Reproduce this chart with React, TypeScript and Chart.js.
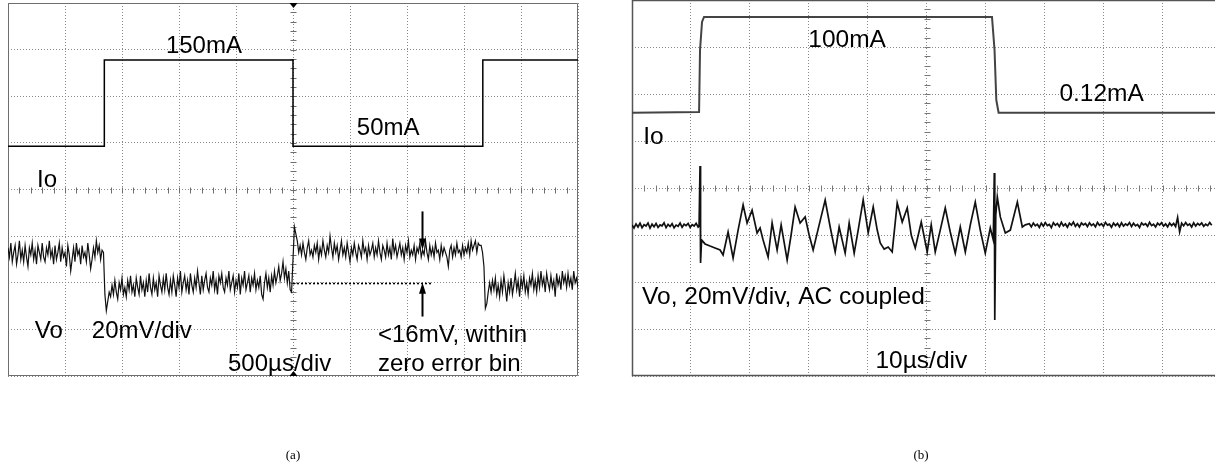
import React, { useEffect, useRef } from "react";
import { Chart, registerables } from "chart.js";

Chart.register(...registerables);

const SANS = '"Liberation Sans", Arial, Helvetica, sans-serif';
const SERIF = '"Liberation Serif", "Times New Roman", serif';

// ---------------- Panel (a): 500 µs/div, Vo 20 mV/div ----------------
const A_US_PER_DIV = 500;
const A_VO_MV_PER_DIV = 20;
const A_IO_MA_PER_DIV = 54;
const A_X_GRID_US = [0, 500, 1000, 1500, 2000, 2500, 3000, 3500, 4000, 4500, 5000];

const A_IO_TIME_US = [0, 845, 845, 2500, 2500, 4165, 4165, 5000];
const A_IO_MA = [50, 50, 150, 150, 50, 50, 150, 150];

const A_VO_SAMPLE_US = 12.5;
const A_VO_MV = [
  // 150 mA -> 50 mA region (before first load step)
  -25, -29, -23, -31, -27, -24, -32, -28, -22, -30,
  -26, -31, -24, -29, -33, -25, -28, -23, -30, -26,
  -32, -24, -27, -30, -23, -29, -31, -25, -28, -22,
  -29, -26, -32, -24, -30, -27, -23, -31, -25, -29,
  -27, -33, -24, -28, -35, -30, -25, -31, -23, -28,
  -26, -32, -24, -29, -27, -31, -23, -28, -34, -30,
  -25, -29, -22, -27, -24, -30, -26, -27,
  // step load up: undershoot
  -45, -52,
  // 150 mA region
  -48, -44, -46, -41, -45, -39, -44, -47, -40, -43,
  -38, -45, -42, -46, -39, -43, -37, -44, -41, -46,
  -38, -42, -45, -37, -43, -40, -46, -39, -44, -36,
  -42, -45, -38, -43, -40, -46, -37, -41, -44, -38,
  -43, -36, -42, -45, -39, -44, -37, -41, -46, -38,
  -42, -35, -44, -40, -37, -43, -39, -45, -36, -41,
  -44, -38, -42, -35, -40, -45, -37, -43, -39, -36,
  -42, -44, -38, -41, -35, -43, -39, -45, -37, -40,
  -36, -42, -44, -38, -41, -35, -43, -40, -37, -44,
  -39, -42, -36, -45, -38, -41, -35, -43, -40, -37,
  -44, -38, -41, -36, -43, -39, -42, -37, -45, -47,
  -40, -36, -42, -38, -44, -37, -41, -35, -40, -37,
  -33, -39, -36, -31, -38, -34, -40, -35, -43,
  // step load down: overshoot
  -44, -30, -16, -19, -22, -27,
  // 50 mA region
  -24, -28, -23, -27, -30, -25, -22, -28, -26, -29,
  -24, -27, -23, -30, -25, -28, -22, -26, -29, -24,
  -27, -20, -25, -29, -23, -27, -24, -30, -26, -22,
  -28, -25, -29, -23, -27, -31, -25, -28, -23, -27,
  -30, -24, -26, -29, -22, -27, -25, -30, -24, -28,
  -26, -23, -29, -25, -28, -22, -27, -30, -24, -26,
  -29, -23, -28, -25, -30, -21, -27, -24, -29, -26,
  -23, -28, -25, -30, -24, -27, -22, -29, -26, -28,
  -24, -30, -25, -27, -23, -29, -26, -28, -22, -27,
  -30, -24, -28, -25, -29, -23, -27, -26, -30, -24,
  -28, -25, -27, -29, -33, -26, -24, -29, -25, -28,
  -23, -27, -26, -29, -24, -28, -25, -27, -23, -28,
  -22, -26, -24, -22, -27, -23, -24,
  // step load up again
  -24, -27, -33, -51, -49, -44, -40, -44, -39,
  // 150 mA region
  -43, -38, -45, -41, -46, -39, -44, -37, -42, -48,
  -40, -44, -38, -45, -41, -36, -43, -39, -46, -38,
  -42, -37, -44, -40, -45, -38, -41, -36, -43, -39,
  -44, -37, -42, -35, -41, -38, -44, -36, -40, -43,
  -37, -42, -39, -46, -36, -41, -38, -43, -35, -40,
  -37, -42, -36, -41, -38, -43, -35, -40, -38, -42,
];

const A_REF_LINE_US = [2500, 3728];
const A_REF_LINE_MV = -40;
const A_ARROW_US = 3630;
const A_ARROW_DOWN_MV = [-9.4, -25.7];
const A_ARROW_UP_MV = [-54.5, -40];

const A_TEXTS = ["150mA", "50mA", "Io", "Vo", "20mV/div", "500µs/div", "<16mV, within", "zero error bin"];
const A_TEXT_X_US = [1385, 3060, 255, 235, 735, 1930, 3245, 3245];
const A_TEXT_Y_DIV = [2.93, 1.16, 0.06, -3.18, -3.18, -3.9, -3.28, -3.9];

// ---------------- Panel (b): 10 µs/div, Vo 20 mV/div AC coupled ----------------
const B_US_PER_DIV = 10;
const B_X_MAX_US = 98.9;
const B_VO_MV_PER_DIV = 20;
const B_IO_MA_PER_DIV = 49;
const B_IO_OFFSET_DIV = 1.6;
const B_X_GRID_US = [0, 10, 20, 30, 40, 50, 60, 70, 80, 90];

const B_IO_TIME_US = [0, 11.38, 11.54, 11.88, 12.22, 61.07, 61.5, 61.8, 62.19, 98.9];
const B_IO_MA = [0.12, 0.8, 65.5, 94.7, 100, 100, 65.5, 13.3, 0.12, 0.12];

const B_VO_PRE_SAMPLE_US = 0.34;
const B_VO_PRE_MV = [
  -15.7, -17.0, -15.3, -16.6, -15.0, -16.9, -15.6, -16.2, -14.9, -17.1,
  -15.4, -16.5, -15.1, -16.8, -15.7, -16.1, -14.8, -16.9, -15.5, -16.4,
  -15.2, -17.0, -15.8, -16.3, -14.9, -16.7, -15.4, -16.0, -15.1, -16.8,
  -15.6, -16.2, -15.0, -16.6,
];

const B_VO_STEP_US = [
  11.38, 11.54, 11.63, 11.8, 12.39, 13.24, 14.09, 14.94, 15.45, 16.3,
  17.15, 18.0, 18.85, 19.52, 20.37, 21.22, 21.73, 22.24, 23.09, 23.77,
  24.62, 25.3, 26.32, 26.99, 27.67, 28.52, 29.37, 30.05, 30.73, 31.75,
  32.77, 33.62, 34.47, 35.14, 36.16, 36.84, 37.69, 38.37, 39.22, 40.07,
  40.92, 41.6, 42.11, 42.78, 43.46, 44.14, 44.99, 45.84, 46.69, 47.37,
  48.05, 49.07, 50.08, 50.76, 51.44, 52.29, 53.14, 53.99, 54.84, 55.69,
  56.54, 57.39, 58.23, 59.08, 59.93, 60.78, 61.29, 61.46, 61.54, 61.71,
  61.97, 62.48, 63.33, 64.18, 65.37, 66.21, 66.72,
];
const B_VO_STEP_MV = [
  -16.2, 9.4, -31.9, -22.1, -23.8, -24.7, -25.5, -26.4, -28.5, -18.7,
  -29.8, -17.9, -7.2, -14.9, -9.4, -19.1, -17.0, -22.1, -29.4, -14.9,
  -26.4, -15.7, -30.6, -20.0, -8.1, -14.9, -12.3, -20.0, -26.4, -15.7,
  -5.1, -16.6, -27.2, -16.6, -27.7, -14.9, -27.7, -17.9, -5.1, -19.1,
  -8.1, -17.9, -23.4, -26.0, -25.1, -27.2, -6.4, -14.5, -8.5, -20.0,
  -25.5, -14.5, -27.2, -15.7, -27.2, -17.9, -8.5, -18.7, -27.7, -16.6,
  -27.2, -15.7, -6.0, -17.9, -27.7, -17.0, -22.1, 6.4, -56.2, -11.5,
  -3.8, -12.3, -19.1, -17.9, -6.0, -16.6, -15.7,
];

const B_VO_TAIL_START_US = 67.4;
const B_VO_TAIL_SAMPLE_US = 0.34;
const B_VO_TAIL_MV = [
  -15.2, -16.5, -14.9, -16.1, -15.4, -16.8, -15.0, -16.2, -14.7, -16.0,
  -15.5, -16.9, -14.8, -15.9, -15.1, -16.4, -14.6, -16.1, -15.3, -16.7,
  -15.0, -15.8, -14.5, -16.3, -15.2, -16.6, -14.9, -15.7, -15.1, -16.4,
  -14.8, -16.0, -15.3, -16.5, -14.7, -15.9, -15.2, -16.3, -14.6, -15.8,
  -15.4, -16.7, -14.9, -16.0, -15.1, -16.5, -14.8, -16.2, -15.3, -15.9,
  -14.7, -16.4, -15.0, -16.1, -15.5, -16.8, -14.9, -15.7, -15.2, -16.3,
  -14.6, -16.0, -15.4, -16.6, -15.0, -15.8, -14.8, -16.2, -15.3, -16.5,
  -14.9, -16.0, -15.1, -16.4, -12.6, -18.7, -15.0, -16.1, -14.7, -15.9,
  -15.3, -16.6, -14.8, -16.2, -15.1, -15.8, -14.9, -16.3, -15.4, -16.0,
  -14.7, -15.9,
];

const B_TEXTS = ["100mA", "0.12mA", "Io", "Vo, 20mV/div, AC coupled", "10µs/div"];
const B_TEXT_X_US = [29.9, 72.5, 1.9, 1.7, 41.3];
const B_TEXT_Y_DIV = [3.01, 1.85, 0.94, -2.47, -3.83];

// ---------------- drawing helpers ----------------
type Deco = {
  xDiv: number;
  centerX: number;
  frameColor: string;
  frameWidth: number;
  frameRight: boolean;
  tickColor: string;
  triangles: boolean;
  texts: string[];
  textX: number[];
  textY: number[];
  fontPx: number;
  caption: string;
  captionX: number;
  captionY: number;
  refLine?: { x0: number; x1: number; y: number };
  arrows?: { x: number; from: number; to: number }[];
};

function makeScopePlugin(d: Deco) {
  return {
    id: "scopeDeco",
    beforeDatasetsDraw(chart: any) {
      const { ctx, chartArea: ca } = chart;
      const xs = chart.scales.x;
      const ys = chart.scales.y;
      ctx.save();
      ctx.strokeStyle = d.tickColor;
      ctx.lineWidth = 1;
      const cx = Math.round(xs.getPixelForValue(d.centerX)) + 0.5;
      const cy = Math.round(ys.getPixelForValue(0)) + 0.5;
      ctx.beginPath();
      for (let k = -20; k <= 20; k++) {
        const y = Math.round(ys.getPixelForValue(k * 0.2)) + 0.5;
        if (y < ca.top + 1 || y > ca.bottom - 1) continue;
        ctx.moveTo(cx - 3, y);
        ctx.lineTo(cx + 3, y);
      }
      const step = d.xDiv / 5;
      for (let k = 1; k * step < xs.max; k++) {
        const x = Math.round(xs.getPixelForValue(k * step)) + 0.5;
        ctx.moveTo(x, cy - 3);
        ctx.lineTo(x, cy + 3);
      }
      ctx.stroke();

      ctx.strokeStyle = d.frameColor;
      ctx.lineWidth = d.frameWidth;
      const L = Math.round(ca.left) + 0.5;
      const R = Math.round(ca.right) - 0.5;
      const T = Math.round(ca.top) + 0.5;
      const B = Math.round(ca.bottom) - 0.5;
      ctx.beginPath();
      ctx.moveTo(d.frameRight ? R : ca.right, T);
      ctx.lineTo(L, T);
      ctx.lineTo(L, B);
      ctx.lineTo(d.frameRight ? R : ca.right, B);
      if (d.frameRight) ctx.lineTo(R, T);
      ctx.stroke();
      ctx.restore();
    },
    afterDatasetsDraw(chart: any) {
      const { ctx, chartArea: ca } = chart;
      const xs = chart.scales.x;
      const ys = chart.scales.y;
      ctx.save();
      if (d.refLine) {
        const y = Math.round(ys.getPixelForValue(d.refLine.y)) + 0.5;
        ctx.strokeStyle = "#000";
        ctx.lineWidth = 1.6;
        ctx.setLineDash([2, 2]);
        ctx.beginPath();
        ctx.moveTo(xs.getPixelForValue(d.refLine.x0), y);
        ctx.lineTo(xs.getPixelForValue(d.refLine.x1), y);
        ctx.stroke();
        ctx.setLineDash([]);
      }
      if (d.arrows) {
        for (const a of d.arrows) {
          const x = Math.round(xs.getPixelForValue(a.x)) + 0.5;
          const y0 = ys.getPixelForValue(a.from);
          const y1 = ys.getPixelForValue(a.to);
          const dir = y1 > y0 ? 1 : -1;
          ctx.strokeStyle = "#000";
          ctx.lineWidth = 2;
          ctx.beginPath();
          ctx.moveTo(x, y0);
          ctx.lineTo(x, y1 - dir * 8);
          ctx.stroke();
          ctx.fillStyle = "#000";
          ctx.beginPath();
          ctx.moveTo(x, y1);
          ctx.lineTo(x - 3.5, y1 - dir * 11);
          ctx.lineTo(x + 3.5, y1 - dir * 11);
          ctx.closePath();
          ctx.fill();
        }
      }
      if (d.triangles) {
        const x = xs.getPixelForValue(d.centerX) + 0.5;
        ctx.fillStyle = "#000";
        ctx.beginPath();
        ctx.moveTo(x - 4, ca.top);
        ctx.lineTo(x + 4, ca.top);
        ctx.lineTo(x, ca.top + 5);
        ctx.closePath();
        ctx.fill();
        ctx.beginPath();
        ctx.moveTo(x - 4, ca.bottom);
        ctx.lineTo(x + 4, ca.bottom);
        ctx.lineTo(x, ca.bottom - 5);
        ctx.closePath();
        ctx.fill();
      }
      ctx.fillStyle = "#000";
      ctx.textBaseline = "alphabetic";
      ctx.textAlign = "left";
      ctx.font = `${d.fontPx}px ${SANS}`;
      d.texts.forEach((t, i) => {
        ctx.fillText(t, xs.getPixelForValue(d.textX[i]), ys.getPixelForValue(d.textY[i]));
      });
      ctx.font = `13px ${SERIF}`;
      ctx.textAlign = "center";
      ctx.fillText(d.caption, d.captionX, d.captionY);
      ctx.restore();
    },
  };
}

function scopeScales(xMax: number, xGrid: number[]) {
  const grid = { color: "#8a8a8a", lineWidth: 1, drawTicks: false };
  const border = { display: false, dash: [1, 2] };
  return {
    x: {
      type: "linear",
      min: 0,
      max: xMax,
      afterBuildTicks: (s: any) => {
        s.ticks = xGrid.map((v) => ({ value: v }));
      },
      ticks: { display: false },
      grid,
      border,
    },
    y: {
      type: "linear",
      min: -4,
      max: 4,
      ticks: { display: false, stepSize: 1 },
      grid,
      border,
    },
  };
}

function buildA() {
  const io = A_IO_TIME_US.map((t, i) => ({ x: t, y: A_IO_MA[i] / A_IO_MA_PER_DIV }));
  const vo = A_VO_MV.map((v, i) => ({ x: i * A_VO_SAMPLE_US, y: v / A_VO_MV_PER_DIV }));
  const deco: Deco = {
    xDiv: A_US_PER_DIV,
    centerX: 5 * A_US_PER_DIV,
    frameColor: "#6e6e6e",
    frameWidth: 1,
    frameRight: true,
    tickColor: "#6e6e6e",
    triangles: true,
    texts: A_TEXTS,
    textX: A_TEXT_X_US,
    textY: A_TEXT_Y_DIV,
    fontPx: 24,
    caption: "(a)",
    captionX: 293,
    captionY: 459,
    refLine: { x0: A_REF_LINE_US[0], x1: A_REF_LINE_US[1], y: A_REF_LINE_MV / A_VO_MV_PER_DIV },
    arrows: [
      { x: A_ARROW_US, from: A_ARROW_DOWN_MV[0] / A_VO_MV_PER_DIV, to: A_ARROW_DOWN_MV[1] / A_VO_MV_PER_DIV },
      { x: A_ARROW_US, from: A_ARROW_UP_MV[0] / A_VO_MV_PER_DIV, to: A_ARROW_UP_MV[1] / A_VO_MV_PER_DIV },
    ],
  };
  return {
    type: "line",
    data: {
      datasets: [
        { data: io, borderColor: "#000", borderWidth: 1.5 },
        { data: vo, borderColor: "#111", borderWidth: 1.2 },
      ],
    },
    options: {
      responsive: false,
      animation: false,
      events: [],
      layout: { padding: { left: 8, right: 22, top: 3, bottom: 87 } },
      plugins: { legend: { display: false }, tooltip: { enabled: false } },
      elements: { point: { radius: 0 }, line: { tension: 0 } },
      scales: scopeScales(10 * A_US_PER_DIV, A_X_GRID_US),
    },
    plugins: [makeScopePlugin(deco)],
  };
}

function buildB() {
  const io = B_IO_TIME_US.map((t, i) => ({ x: t, y: B_IO_MA[i] / B_IO_MA_PER_DIV + B_IO_OFFSET_DIV }));
  const pre = B_VO_PRE_MV.map((v, i) => ({ x: i * B_VO_PRE_SAMPLE_US, y: v / B_VO_MV_PER_DIV }));
  const step = B_VO_STEP_US.map((t, i) => ({ x: t, y: B_VO_STEP_MV[i] / B_VO_MV_PER_DIV }));
  const tail = B_VO_TAIL_MV.map((v, i) => ({
    x: B_VO_TAIL_START_US + i * B_VO_TAIL_SAMPLE_US,
    y: v / B_VO_MV_PER_DIV,
  }));
  const deco: Deco = {
    xDiv: B_US_PER_DIV,
    centerX: 5 * B_US_PER_DIV,
    frameColor: "#555",
    frameWidth: 1.5,
    frameRight: false,
    tickColor: "#777",
    triangles: false,
    texts: B_TEXTS,
    textX: B_TEXT_X_US,
    textY: B_TEXT_Y_DIV,
    fontPx: 24.5,
    caption: "(b)",
    captionX: 301,
    captionY: 459,
  };
  return {
    type: "line",
    data: {
      datasets: [
        { data: io, borderColor: "#444", borderWidth: 2 },
        { data: [...pre, ...step, ...tail], borderColor: "#111", borderWidth: 1.7 },
      ],
    },
    options: {
      responsive: false,
      animation: false,
      events: [],
      layout: { padding: { left: 12, right: 0, top: 0, bottom: 87 } },
      plugins: { legend: { display: false }, tooltip: { enabled: false } },
      elements: { point: { radius: 0 }, line: { tension: 0 } },
      scales: scopeScales(B_X_MAX_US, B_X_GRID_US),
    },
    plugins: [makeScopePlugin(deco)],
  };
}

function Scope({ left, width, build }: { left: number; width: number; build: () => any }) {
  const ref = useRef<HTMLCanvasElement>(null);
  useEffect(() => {
    const chart = new Chart(ref.current as HTMLCanvasElement, build());
    return () => chart.destroy();
  }, []);
  return (
    <canvas
      ref={ref}
      width={width}
      height={463}
      style={{ position: "absolute", left, top: 0, width, height: 463 }}
    />
  );
}

export default function App() {
  return (
    <div style={{ position: "absolute", left: 0, top: 0, width: 1215, height: 463, background: "#fff", overflow: "hidden" }}>
      <Scope left={0} width={600} build={buildA} />
      <Scope left={620} width={595} build={buildB} />
    </div>
  );
}
